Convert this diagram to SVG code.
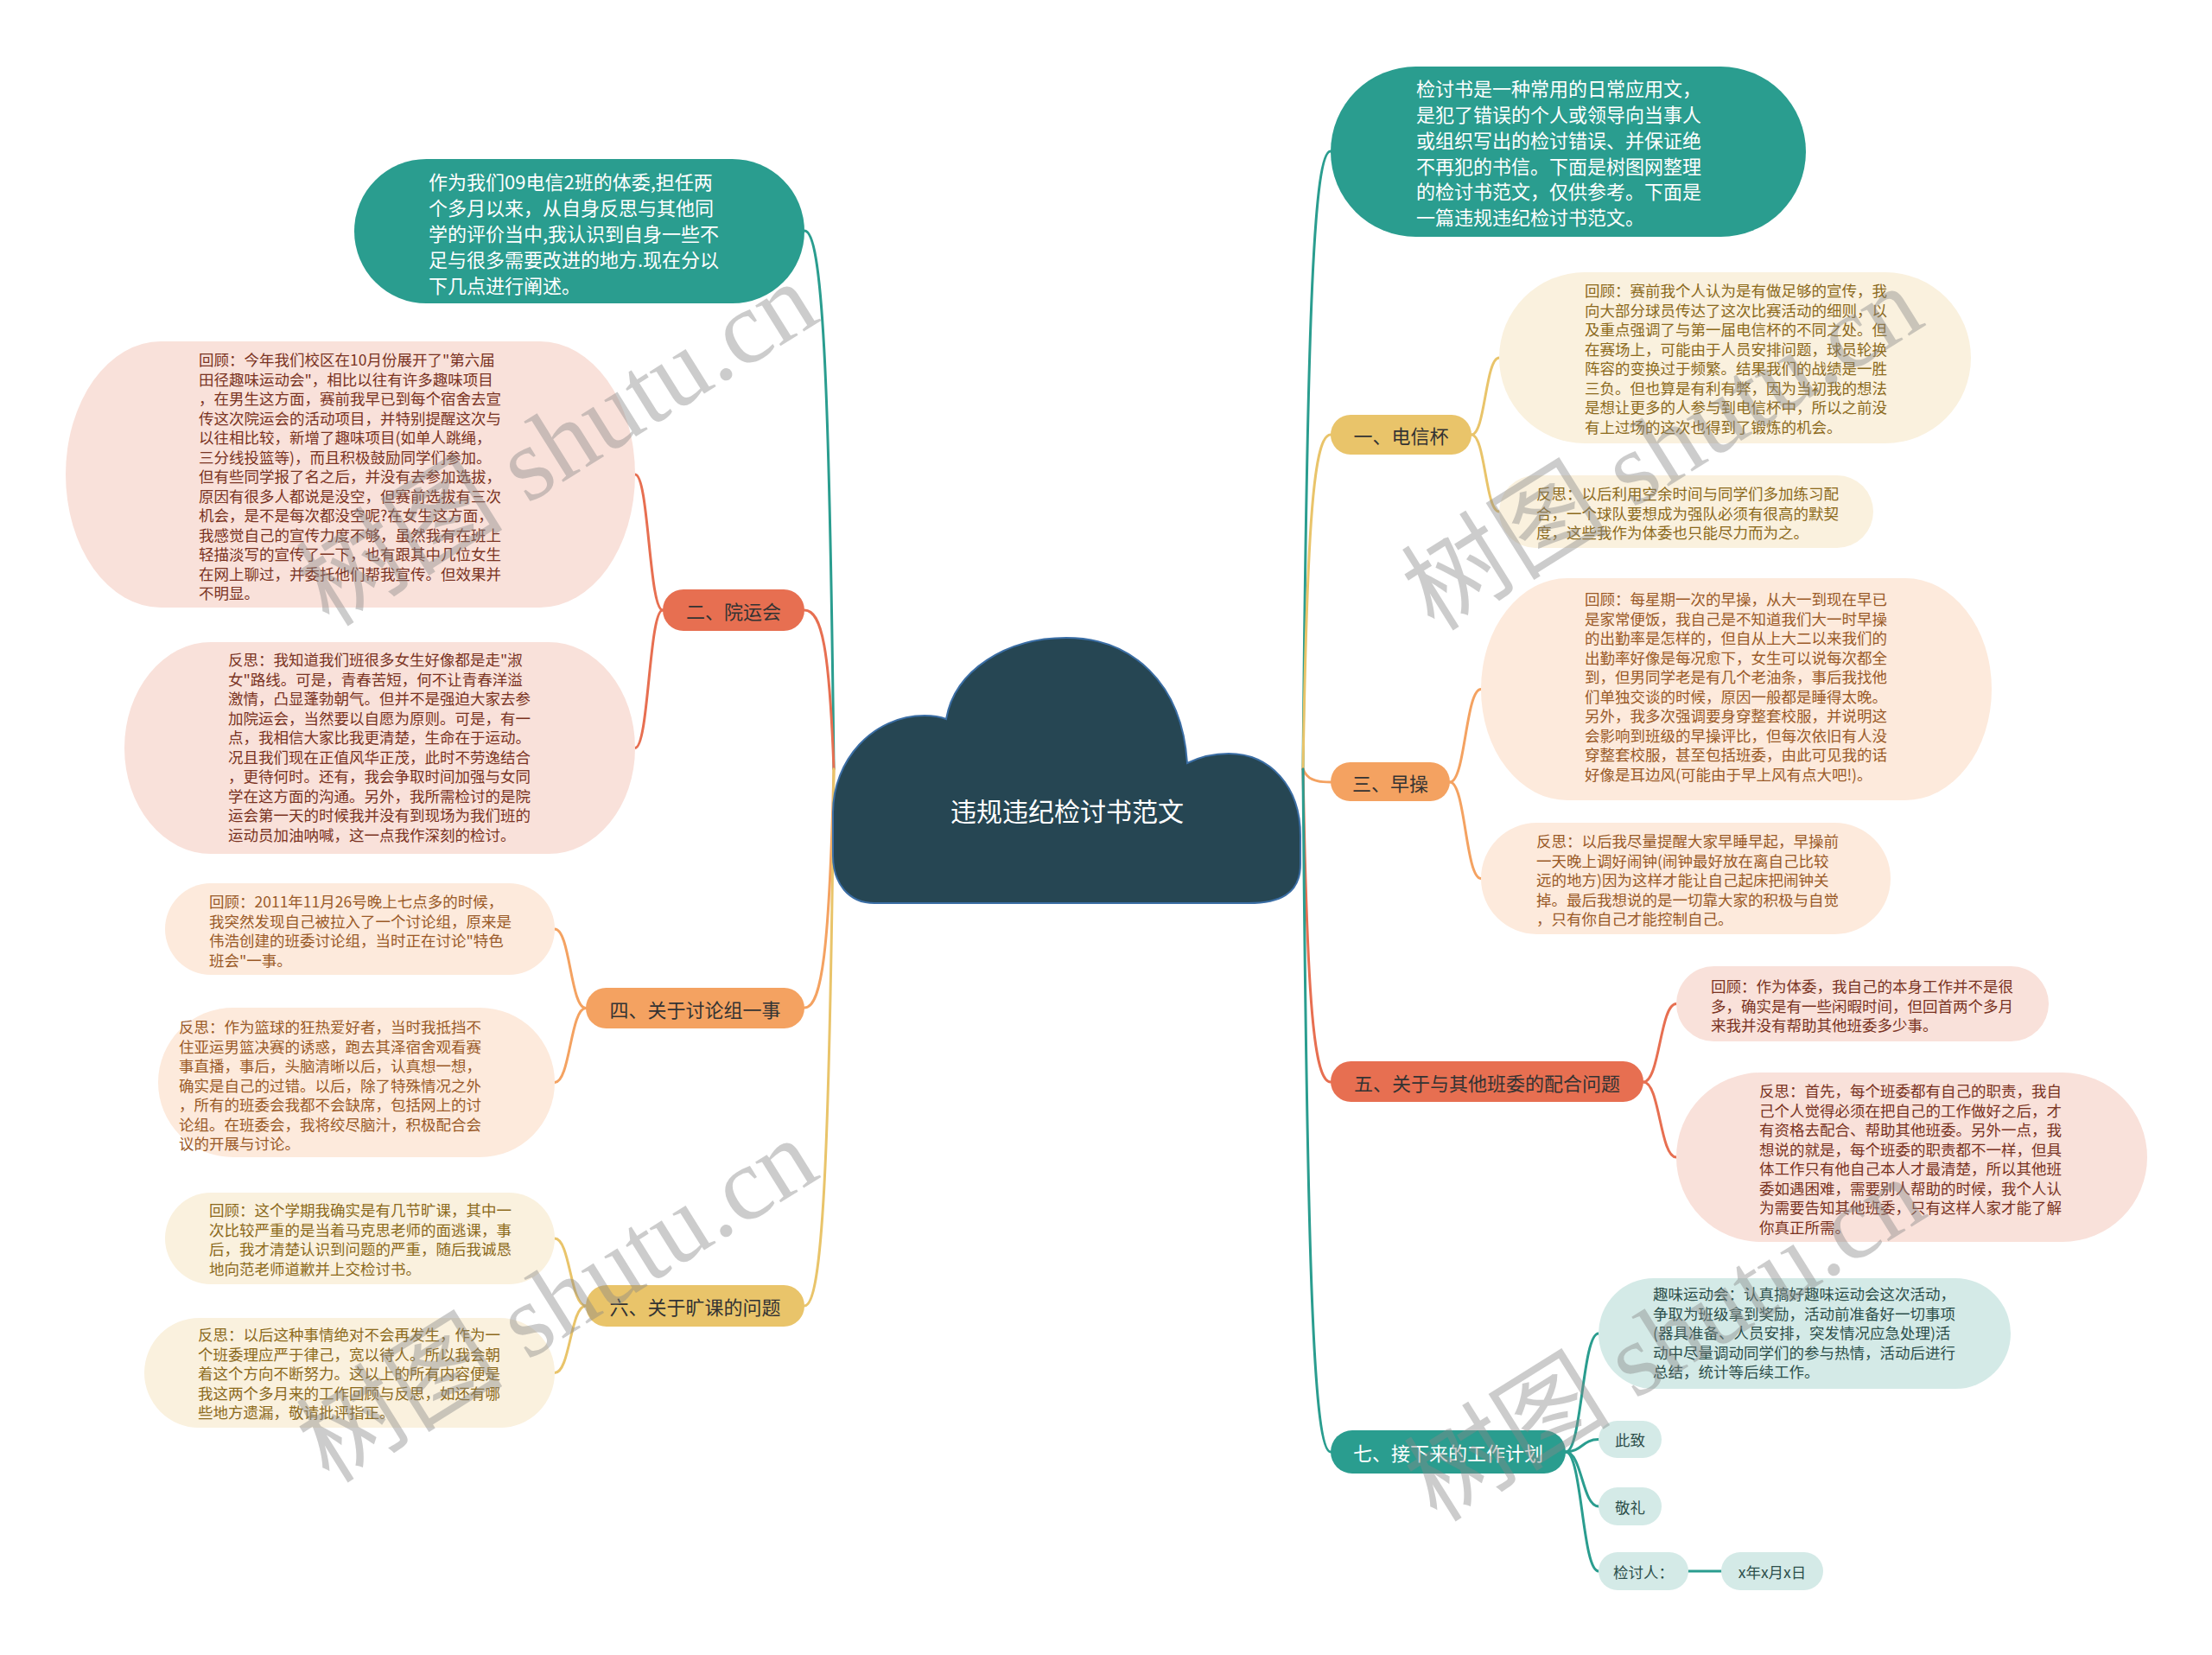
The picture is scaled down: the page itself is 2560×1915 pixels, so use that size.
<svg xmlns="http://www.w3.org/2000/svg" width="2560" height="1915" viewBox="0 0 2560 1915">
<style>
text{font-family:"Noto Sans CJK SC","Noto Sans",sans-serif;dominant-baseline:central}
.w{fill:#fff;font-size:22px}
.bt{fill:#333;font-size:22px;text-anchor:middle}
.btw{fill:#fff;font-size:22px;text-anchor:middle}
.s{font-size:17.5px}
.cr{fill:#7a3322}.co{fill:#9a5a28}.cg{fill:#8c6a1c}.ct{fill:#2d4f4b}
.fr{fill:#F9E1DA}.fo{fill:#FDEADC}.fg{fill:#FAF1DE}.ft{fill:#D4EAE7}
.lk path,.lk line{fill:none;stroke-width:3;stroke-linecap:round}
.kt{stroke:#2A9D8F}.kr{stroke:#E76F51}.ko{stroke:#F4A261}.kg{stroke:#E9C46A}
.wm{font-family:"Liberation Serif","Noto Sans CJK SC",serif;font-size:120px;fill:#888;opacity:0.42;text-anchor:middle}
</style>
<rect width="2560" height="1915" fill="#fff"/>
<g id="connectors" class="lk">
<path class="kt" d="M1508 890 C1512.8 353.75 1520.8 175 1540 175"/>
<path class="kg" d="M1508 890 C1512.8 599.75 1520.8 503 1540 503"/>
<path class="ko" d="M1508 890 C1512.8 901.25 1520.8 905 1540 905"/>
<path class="kr" d="M1508 890 C1512.8 1161.5 1520.8 1252 1540 1252"/>
<path class="kt" d="M1508 890 C1512.8 1482.5 1520.8 1680 1540 1680"/>
<path class="kt" d="M965 890 C959.9 422.75 951.4 267 931 267"/>
<path class="kr" d="M965 890 C959.9 752 951.4 706 931 706"/>
<path class="ko" d="M965 890 C959.9 1097 951.4 1166 931 1166"/>
<path class="kg" d="M965 890 C959.9 1355.75 951.4 1511 931 1511"/>
<path class="kg" d="M1703 503 C1719 503 1719 414 1735 414"/>
<path class="kg" d="M1703 503 C1719 503 1719 592 1735 592"/>
<path class="ko" d="M1678 905 C1696 905 1696 797.5 1714 797.5"/>
<path class="ko" d="M1678 905 C1696 905 1696 1016.5 1714 1016.5"/>
<path class="kr" d="M1902 1252 C1921 1252 1921 1161.5 1940 1161.5"/>
<path class="kr" d="M1902 1252 C1921 1252 1921 1339 1940 1339"/>
<path class="kt" d="M1812 1680 C1831 1680 1831 1543 1850 1543"/>
<path class="kt" d="M1812 1680 C1831 1680 1831 1665.5 1850 1665.5"/>
<path class="kt" d="M1812 1680 C1831 1680 1831 1743 1850 1743"/>
<path class="kt" d="M1812 1680 C1831 1680 1831 1818 1850 1818"/>
<line class="kt" x1="1954" y1="1818" x2="1992" y2="1818"/>
<path class="kr" d="M767 706 C751 706 751 549 735 549"/>
<path class="kr" d="M767 706 C751 706 751 865.5 735 865.5"/>
<path class="ko" d="M678 1166.5 C660 1166.5 660 1075 642 1075"/>
<path class="ko" d="M678 1166.5 C660 1166.5 660 1252.5 642 1252.5"/>
<path class="kg" d="M678 1511 C660 1511 660 1433 642 1433"/>
<path class="kg" d="M678 1511 C660 1511 660 1588.5 642 1588.5"/>
</g>
<g id="root">
<path d="M1095 832 C1105 775 1165 738 1234 738 C1310 738 1368 790 1374 883 C1388 876 1405 872 1422 872 C1470 872 1505 910 1505 967 L1505 1000 C1505 1035 1480 1045 1445 1045 L1012 1045 C982 1045 964 1022 964 990 L964 940 C964 880 1010 828 1070 828 C1080 828 1090 830 1095 832 Z" fill="#264653" stroke="#3b6ea5" stroke-width="2"/>
<text x="1235" y="937" style="fill:#fff;font-size:30px;text-anchor:middle">违规违纪检讨书范文</text>
</g>
<g id="intro-left">
<rect x="410" y="184" width="521" height="167" rx="83.5" fill="#2A9D8F"/>
<text class="w"><tspan x="496" y="209">作为我们09电信2班的体委,担任两</tspan><tspan x="496" y="239">个多月以来，从自身反思与其他同</tspan><tspan x="496" y="269">学的评价当中,我认识到自身一些不</tspan><tspan x="496" y="299">足与很多需要改进的地方.现在分以</tspan><tspan x="496" y="329">下几点进行阐述。</tspan></text>
</g>
<g id="intro-right">
<rect x="1540" y="77" width="550" height="197" rx="98.5" fill="#2A9D8F"/>
<text class="w"><tspan x="1639" y="101">检讨书是一种常用的日常应用文，</tspan><tspan x="1639" y="131">是犯了错误的个人或领导向当事人</tspan><tspan x="1639" y="160.5">或组织写出的检讨错误、并保证绝</tspan><tspan x="1639" y="190.5">不再犯的书信。下面是树图网整理</tspan><tspan x="1639" y="220">的检讨书范文，仅供参考。下面是</tspan><tspan x="1639" y="250">一篇违规违纪检讨书范文。</tspan></text>
</g>
<g id="b1">
<rect x="1540" y="480" width="163" height="46" rx="23" fill="#E9C46A"/>
<text class="bt" x="1621.5" y="503">一、电信杯</text>
</g>
<g id="b1-1">
<rect class="fg" x="1735" y="315" width="546" height="198" rx="99"/>
<text class="s cg"><tspan x="1834" y="335">回顾：赛前我个人认为是有做足够的宣传，我</tspan><tspan x="1834" y="357.5">向大部分球员传达了这次比赛活动的细则，以</tspan><tspan x="1834" y="380">及重点强调了与第一届电信杯的不同之处。但</tspan><tspan x="1834" y="402.5">在赛场上，可能由于人员安排问题，球员轮换</tspan><tspan x="1834" y="425">阵容的变换过于频繁。结果我们的战绩是一胜</tspan><tspan x="1834" y="447.5">三负。但也算是有利有弊，因为当初我的想法</tspan><tspan x="1834" y="470">是想让更多的人参与到电信杯中，所以之前没</tspan><tspan x="1834" y="492.5">有上过场的这次也得到了锻炼的机会。</tspan></text>
</g>
<g id="b1-2">
<rect class="fg" x="1735" y="550" width="433" height="84" rx="42"/>
<text class="s cg"><tspan x="1778" y="570">反思：以后利用空余时间与同学们多加练习配</tspan><tspan x="1778" y="592.5">合，一个球队要想成为强队必须有很高的默契</tspan><tspan x="1778" y="615">度，这些我作为体委也只能尽力而为之。</tspan></text>
</g>
<g id="b3">
<rect x="1540" y="882" width="138" height="45" rx="22.5" fill="#F4A261"/>
<text class="bt" x="1609" y="905">三、早操</text>
</g>
<g id="b3-1">
<rect class="fo" x="1714" y="669" width="591" height="257" rx="100" ry="128.5"/>
<text class="s co"><tspan x="1834" y="692">回顾：每星期一次的早操，从大一到现在早已</tspan><tspan x="1834" y="714.5">是家常便饭，我自己是不知道我们大一时早操</tspan><tspan x="1834" y="737">的出勤率是怎样的，但自从上大二以来我们的</tspan><tspan x="1834" y="759.5">出勤率好像是每况愈下，女生可以说每次都全</tspan><tspan x="1834" y="782">到，但男同学老是有几个老油条，事后我找他</tspan><tspan x="1834" y="804.5">们单独交谈的时候，原因一般都是睡得太晚。</tspan><tspan x="1834" y="827">另外，我多次强调要身穿整套校服，并说明这</tspan><tspan x="1834" y="849.5">会影响到班级的早操评比，但每次依旧有人没</tspan><tspan x="1834" y="872">穿整套校服，甚至包括班委，由此可见我的话</tspan><tspan x="1834" y="894.5">好像是耳边风(可能由于早上风有点大吧!)。</tspan></text>
</g>
<g id="b3-2">
<rect class="fo" x="1714" y="952" width="474" height="129" rx="64.5"/>
<text class="s co"><tspan x="1778" y="972">反思：以后我尽量提醒大家早睡早起，早操前</tspan><tspan x="1778" y="994.5">一天晚上调好闹钟(闹钟最好放在离自己比较</tspan><tspan x="1778" y="1017">远的地方)因为这样才能让自己起床把闹钟关</tspan><tspan x="1778" y="1039.5">掉。最后我想说的是一切靠大家的积极与自觉</tspan><tspan x="1778" y="1062">，只有你自己才能控制自己。</tspan></text>
</g>
<g id="b5">
<rect x="1540" y="1228" width="362" height="47" rx="23.5" fill="#E76F51"/>
<text class="bt" x="1721" y="1252">五、关于与其他班委的配合问题</text>
</g>
<g id="b5-1">
<rect class="fr" x="1940" y="1118" width="431" height="87" rx="43.5"/>
<text class="s cr"><tspan x="1980" y="1140">回顾：作为体委，我自己的本身工作并不是很</tspan><tspan x="1980" y="1162.5">多，确实是有一些闲暇时间，但回首两个多月</tspan><tspan x="1980" y="1185">来我并没有帮助其他班委多少事。</tspan></text>
</g>
<g id="b5-2">
<rect class="fr" x="1940" y="1241" width="545" height="196" rx="98"/>
<text class="s cr"><tspan x="2036" y="1261">反思：首先，每个班委都有自己的职责，我自</tspan><tspan x="2036" y="1283.5">己个人觉得必须在把自己的工作做好之后，才</tspan><tspan x="2036" y="1306">有资格去配合、帮助其他班委。另外一点，我</tspan><tspan x="2036" y="1328.5">想说的就是，每个班委的职责都不一样，但具</tspan><tspan x="2036" y="1351">体工作只有他自己本人才最清楚，所以其他班</tspan><tspan x="2036" y="1373.5">委如遇困难，需要别人帮助的时候，我个人认</tspan><tspan x="2036" y="1396">为需要告知其他班委，只有这样人家才能了解</tspan><tspan x="2036" y="1418.5">你真正所需。</tspan></text>
</g>
<g id="b7">
<rect x="1540" y="1655" width="272" height="50" rx="25" fill="#2A9D8F"/>
<text class="btw" x="1676" y="1680">七、接下来的工作计划</text>
</g>
<g id="b7-1">
<rect class="ft" x="1850" y="1479" width="477" height="128" rx="64"/>
<text class="s ct"><tspan x="1913" y="1496">趣味运动会：认真搞好趣味运动会这次活动，</tspan><tspan x="1913" y="1518.5">争取为班级拿到奖励，活动前准备好一切事项</tspan><tspan x="1913" y="1541">(器具准备、人员安排，突发情况应急处理)活</tspan><tspan x="1913" y="1563.5">动中尽量调动同学们的参与热情，活动后进行</tspan><tspan x="1913" y="1586">总结，统计等后续工作。</tspan></text>
</g>
<g id="b7-2">
<rect class="ft" x="1850" y="1644" width="73" height="43" rx="21.5"/>
<text class="s ct" x="1886.5" y="1665.5" text-anchor="middle">此致</text>
</g>
<g id="b7-3">
<rect class="ft" x="1850" y="1721" width="73" height="44" rx="22"/>
<text class="s ct" x="1886.5" y="1743" text-anchor="middle">敬礼</text>
</g>
<g id="b7-4">
<rect class="ft" x="1850" y="1796" width="104" height="44" rx="22"/>
<text class="s ct" x="1902" y="1818" text-anchor="middle">检讨人：</text>
</g>
<g id="b7-5">
<rect class="ft" x="1992" y="1796" width="118" height="44" rx="22"/>
<text class="s ct" x="2051" y="1818" text-anchor="middle">x年x月x日</text>
</g>
<g id="b2">
<rect x="767" y="682" width="164" height="48" rx="24" fill="#E76F51"/>
<text class="bt" x="849" y="706">二、院运会</text>
</g>
<g id="b2-1">
<rect class="fr" x="76" y="395" width="659" height="308" rx="110" ry="154"/>
<text class="s cr"><tspan x="230" y="415">回顾：今年我们校区在10月份展开了"第六届</tspan><tspan x="230" y="437.5">田径趣味运动会"，相比以往有许多趣味项目</tspan><tspan x="230" y="460">，在男生这方面，赛前我早已到每个宿舍去宣</tspan><tspan x="230" y="482.5">传这次院运会的活动项目，并特别提醒这次与</tspan><tspan x="230" y="505">以往相比较，新增了趣味项目(如单人跳绳，</tspan><tspan x="230" y="527.5">三分线投篮等)，而且积极鼓励同学们参加。</tspan><tspan x="230" y="550">但有些同学报了名之后，并没有去参加选拔，</tspan><tspan x="230" y="572.5">原因有很多人都说是没空，但赛前选拔有三次</tspan><tspan x="230" y="595">机会，是不是每次都没空呢?在女生这方面，</tspan><tspan x="230" y="617.5">我感觉自己的宣传力度不够，虽然我有在班上</tspan><tspan x="230" y="640">轻描淡写的宣传了一下，也有跟其中几位女生</tspan><tspan x="230" y="662.5">在网上聊过，并委托他们帮我宣传。但效果并</tspan><tspan x="230" y="685">不明显。</tspan></text>
</g>
<g id="b2-2">
<rect class="fr" x="144" y="743" width="591" height="245" rx="100" ry="122.5"/>
<text class="s cr"><tspan x="264" y="762">反思：我知道我们班很多女生好像都是走"淑</tspan><tspan x="264" y="784.5">女"路线。可是，青春苦短，何不让青春洋溢</tspan><tspan x="264" y="807">激情，凸显蓬勃朝气。但并不是强迫大家去参</tspan><tspan x="264" y="829.5">加院运会，当然要以自愿为原则。可是，有一</tspan><tspan x="264" y="852">点，我相信大家比我更清楚，生命在于运动。</tspan><tspan x="264" y="874.5">况且我们现在正值风华正茂，此时不劳逸结合</tspan><tspan x="264" y="897">，更待何时。还有，我会争取时间加强与女同</tspan><tspan x="264" y="919.5">学在这方面的沟通。另外，我所需检讨的是院</tspan><tspan x="264" y="942">运会第一天的时候我并没有到现场为我们班的</tspan><tspan x="264" y="964.5">运动员加油呐喊，这一点我作深刻的检讨。</tspan></text>
</g>
<g id="b4">
<rect x="678" y="1143" width="253" height="47" rx="23.5" fill="#F4A261"/>
<text class="bt" x="804.5" y="1166.5">四、关于讨论组一事</text>
</g>
<g id="b4-1">
<rect class="fo" x="191" y="1022" width="451" height="106" rx="53"/>
<text class="s co"><tspan x="242" y="1042">回顾：2011年11月26号晚上七点多的时候，</tspan><tspan x="242" y="1064.5">我突然发现自己被拉入了一个讨论组，原来是</tspan><tspan x="242" y="1087">伟浩创建的班委讨论组，当时正在讨论"特色</tspan><tspan x="242" y="1109.5">班会"一事。</tspan></text>
</g>
<g id="b4-2">
<rect class="fo" x="183" y="1166" width="459" height="173" rx="86.5"/>
<text class="s co"><tspan x="207" y="1187">反思：作为篮球的狂热爱好者，当时我抵挡不</tspan><tspan x="207" y="1209.5">住亚运男篮决赛的诱惑，跑去其泽宿舍观看赛</tspan><tspan x="207" y="1232">事直播，事后，头脑清晰以后，认真想一想，</tspan><tspan x="207" y="1254.5">确实是自己的过错。以后，除了特殊情况之外</tspan><tspan x="207" y="1277">，所有的班委会我都不会缺席，包括网上的讨</tspan><tspan x="207" y="1299.5">论组。在班委会，我将绞尽脑汁，积极配合会</tspan><tspan x="207" y="1322">议的开展与讨论。</tspan></text>
</g>
<g id="b6">
<rect x="678" y="1487" width="253" height="48" rx="24" fill="#E9C46A"/>
<text class="bt" x="804.5" y="1511">六、关于旷课的问题</text>
</g>
<g id="b6-1">
<rect class="fg" x="191" y="1380" width="451" height="106" rx="53"/>
<text class="s cg"><tspan x="242" y="1399">回顾：这个学期我确实是有几节旷课，其中一</tspan><tspan x="242" y="1421.5">次比较严重的是当着马克思老师的面逃课，事</tspan><tspan x="242" y="1444">后，我才清楚认识到问题的严重，随后我诚恳</tspan><tspan x="242" y="1466.5">地向范老师道歉并上交检讨书。</tspan></text>
</g>
<g id="b6-2">
<rect class="fg" x="167" y="1525" width="475" height="127" rx="63.5"/>
<text class="s cg"><tspan x="229" y="1543">反思：以后这种事情绝对不会再发生，作为一</tspan><tspan x="229" y="1565.5">个班委理应严于律己，宽以待人。所以我会朝</tspan><tspan x="229" y="1588">着这个方向不断努力。这以上的所有内容便是</tspan><tspan x="229" y="1610.5">我这两个多月来的工作回顾与反思，如还有哪</tspan><tspan x="229" y="1633">些地方遗漏，敬请批评指正。</tspan></text>
</g>
<g id="watermarks">
<text class="wm" transform="translate(645 514) rotate(-32)">树图 shutu.cn</text>
<text class="wm" transform="translate(1924 519) rotate(-32)">树图 shutu.cn</text>
<text class="wm" transform="translate(645 1505) rotate(-32)">树图 shutu.cn</text>
<text class="wm" transform="translate(1927 1550) rotate(-32)">树图 shutu.cn</text>
</g>
</svg>
